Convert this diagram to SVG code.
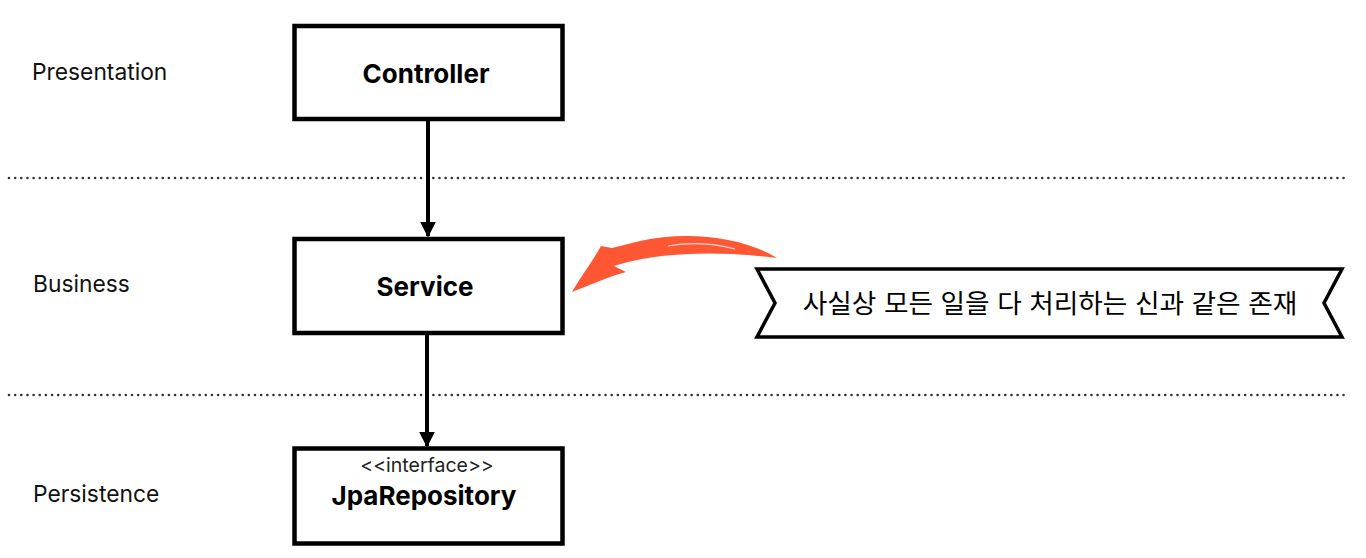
<svg xmlns="http://www.w3.org/2000/svg" width="1366" height="558" viewBox="0 0 1366 558">
<defs>
<style>
.box{fill:#fff;stroke:#000;stroke-width:4.5}
.layer{font-family:Inter,"Noto Sans",sans-serif;font-size:22.8px;fill:#111}
.title{font-family:Inter,"Noto Sans",sans-serif;font-size:26px;font-weight:700;fill:#000;text-anchor:middle}
.stereo{font-family:Inter,"Noto Sans",sans-serif;font-size:19.5px;fill:#222;text-anchor:middle}
.sep{stroke:#333;stroke-width:2.6;stroke-dasharray:0 6.15;stroke-linecap:round;fill:none}
.conn{stroke:#000;stroke-width:4;fill:none}
.note{font-family:Inter,"Noto Sans CJK KR",sans-serif;font-size:26.7px;fill:#000;text-anchor:middle}
</style>
<marker id="ah" viewBox="0 0 10 10" refX="9" refY="5" markerWidth="4" markerHeight="4" orient="auto" markerUnits="strokeWidth">
<path d="M0,0 L10,5 L0,10 Z" fill="#000"/>
</marker>
</defs>
<rect width="1366" height="558" fill="#fff"/>
<g id="separators">
<line class="sep" x1="9" y1="178" x2="1345" y2="178"/>
<line class="sep" x1="9" y1="395" x2="1345" y2="395"/>
</g>
<g id="layer-labels">
<text class="layer" x="32" y="80">Presentation</text>
<text class="layer" x="33" y="292">Business</text>
<text class="layer" x="33" y="502">Persistence</text>
</g>
<g id="connectors">
<line class="conn" x1="428" y1="121" x2="428" y2="236" marker-end="url(#ah)"/>
<line class="conn" x1="427" y1="334" x2="427" y2="446" marker-end="url(#ah)"/>
</g>
<g id="controller">
<rect class="box" x="294.5" y="26" width="268" height="93"/>
<text class="title" x="426" y="83">Controller</text>
</g>
<g id="service">
<rect class="box" x="294.5" y="239" width="268" height="94"/>
<text class="title" x="425" y="296">Service</text>
</g>
<g id="jparepository">
<rect class="box" x="294.5" y="448.5" width="268" height="95"/>
<text class="stereo" x="427" y="472">&lt;&lt;interface&gt;&gt;</text>
<text class="title" x="424" y="505">JpaRepository</text>
</g>
<g id="highlight-arrow">
<path d="M777 258 C745 238 690 230 640 241 L612 248 L601 246 C592 262 580 278 572 292 C590 285 610 276 626 272 L614 266 C645 256 700 248 777 258 Z" fill="#ff5733"/>
<path d="M668 246 C690 242 712 243 735 249" stroke="#fff" stroke-width="1.2" fill="none" opacity="0.8"/>
</g>
<g id="note">
<polygon points="757,269 1342,269 1324,303 1342,337 757,337 775,303" fill="#fff" stroke="#000" stroke-width="3.5" stroke-linejoin="miter"/>
<text class="note" x="1050" y="313">사실상 모든 일을 다 처리하는 신과 같은 존재</text>
</g>
</svg>
